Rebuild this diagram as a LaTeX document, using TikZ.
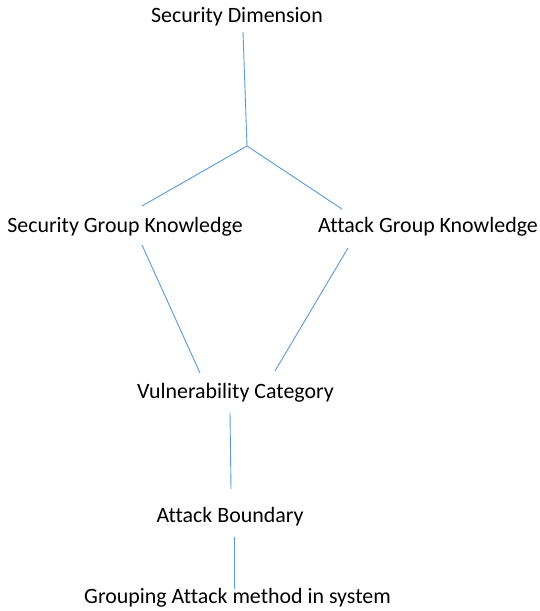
\documentclass[tikz,border=0pt]{standalone}
\usepackage{fontspec}
\setmainfont{Carlito}[Ligatures=NoCommon]
\definecolor{linkblue}{RGB}{91,155,213}
\tikzset{
  lbl/.style={anchor=base, inner sep=0pt, font=\fontsize{21.9}{26}\selectfont, text=black},
  link/.style={draw=linkblue, line width=0.9pt}
}
\begin{document}
\begin{tikzpicture}[x=1pt,y=-1pt]
\useasboundingbox[fill=white] (0,0) rectangle (539,611);
\node[lbl] (sd)  at (237,22)  {Security Dimension};
\node[lbl] (sgk) at (125,232) {Security Group Knowledge};
\node[lbl] (agk) at (428,232) {Attack Group Knowledge};
\node[lbl] (vc)  at (235.5,398) {Vulnerability Category};
\node[lbl] (ab)  at (230,522) {Attack Boundary};
\node[lbl] (gam) at (237.5,603) {Grouping Attack method in system};
\coordinate (j) at (247,146);
\draw[link] ([shift={(6,10)}]sd.base) -- (j);
\draw[link] (j) -- ([shift={(17,-26)}]sgk.base);
\draw[link] (j) -- ([shift={(-86,-23)}]agk.base);
\draw[link] ([shift={(17,13)}]sgk.base) -- ([shift={(-35.5,-25)}]vc.base);
\draw[link] ([shift={(-80,16)}]agk.base) -- ([shift={(39.5,-27)}]vc.base);
\draw[link] ([shift={(-5.5,15)}]vc.base) -- ([shift={(1,-33)}]ab.base);
\draw[link] ([shift={(4,15)}]ab.base) -- ([shift={(-3.5,-14)}]gam.base);
\end{tikzpicture}
\end{document}
